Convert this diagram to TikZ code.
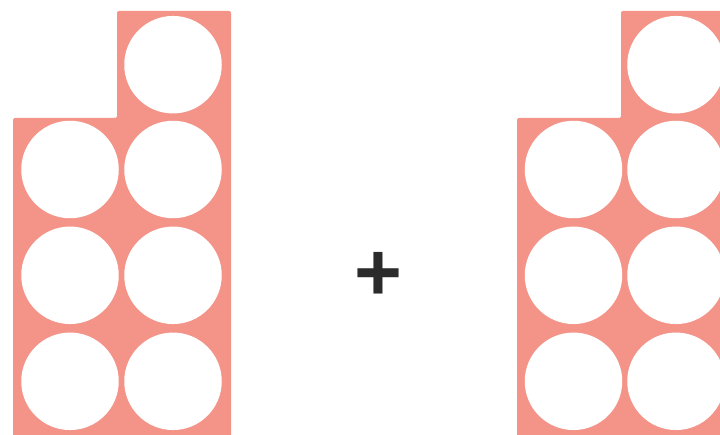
\documentclass[tikz,border=0pt]{standalone}
\usepackage{fontspec}
\setmainfont{Liberation Sans}
\definecolor{blockpink}{RGB}{244,148,137}
\definecolor{plusgray}{RGB}{43,43,43}
\tikzset{
  blockbody/.style={fill=blockpink, draw=none, rounded corners=2pt},
  hole/.style={circle, fill=white, draw=none, inner sep=0pt, minimum size=97.5pt},
  plussign/.style={text=plusgray, inner sep=0pt, font=\bfseries\fontsize{82}{82}\selectfont}
}
\begin{document}
\begin{tikzpicture}[x=1pt,y=-1pt]
\useasboundingbox (0,0) rectangle (720,435);
\clip (0,0) rectangle (720,435);
% left block
\fill[blockbody] (117,11) -- (231,11) -- (231,445) -- (13,445) -- (13,118) -- (117,118) -- cycle;
\node[hole] (l1) at (173,64.7) {};
\node[hole] (l2) at (70,169.5) {};
\node[hole] (l3) at (173,169.5) {};
\node[hole] (l4) at (70,275.3) {};
\node[hole] (l5) at (173,275.3) {};
\node[hole] (l6) at (70,381.3) {};
\node[hole] (l7) at (173,381.3) {};
% right block
\fill[blockbody] (621,11) -- (735,11) -- (735,445) -- (517,445) -- (517,118) -- (621,118) -- cycle;
\node[hole] (r1) at (676,64.7) {};
\node[hole] (r2) at (573.5,169.5) {};
\node[hole] (r3) at (676,169.5) {};
\node[hole] (r4) at (573.5,275.3) {};
\node[hole] (r5) at (676,275.3) {};
\node[hole] (r6) at (573.5,381.3) {};
\node[hole] (r7) at (676,381.3) {};
% plus
\node[plussign] (plus) at (378,276.5) {+};
\end{tikzpicture}
\end{document}
